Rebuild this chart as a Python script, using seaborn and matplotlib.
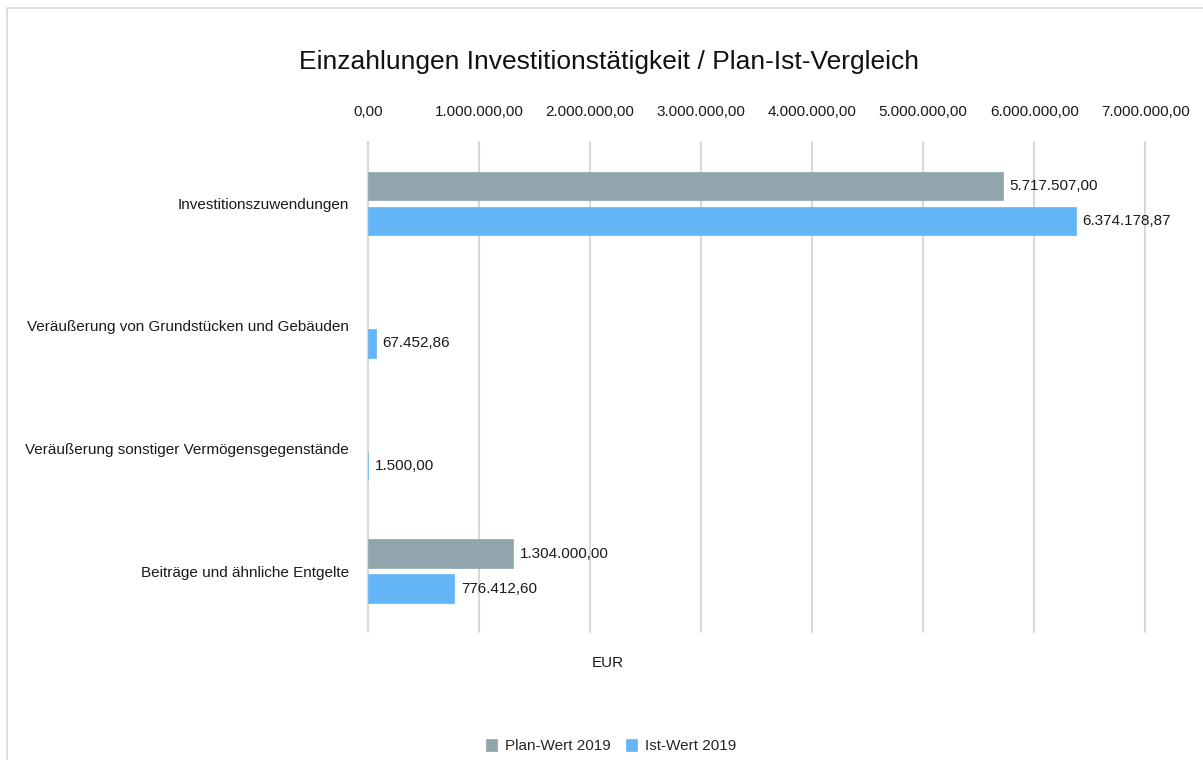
import pandas as pd
import numpy as np
import matplotlib
matplotlib.use('Agg')
import matplotlib.pyplot as plt
from matplotlib.patches import Rectangle
from matplotlib.ticker import FuncFormatter
import seaborn as sns

# Daten
kategorien = ['Investitionszuwendungen',
              'Veräußerung von Grundstücken und Gebäuden',
              'Veräußerung sonstiger Vermögensgegenstände',
              'Beiträge und ähnliche Entgelte']
plan_wert = [5717507.00, np.nan, np.nan, 1304000.00]
ist_wert = [6374178.87, 67452.86, 1500.00, 776412.60]
serien = ['Plan-Wert 2019', 'Ist-Wert 2019']
x_ticks = [0, 1000000, 2000000, 3000000, 4000000, 5000000, 6000000, 7000000]

df = pd.DataFrame({'Kategorie': kategorien * 2,
                   'Serie': [serien[0]] * 4 + [serien[1]] * 4,
                   'Wert': plan_wert + ist_wert})


def de_format(v, pos=None):
    s = f'{v:,.2f}'
    return s.replace(',', 'X').replace('.', ',').replace('X', '.')


sns.set_style('white')
plt.rcParams['font.family'] = ['Liberation Sans', 'DejaVu Sans']

fig = plt.figure(figsize=(12.03, 7.6), dpi=100)
ax = fig.add_axes([0.306, 0.168, 0.646, 0.645])

sns.barplot(data=df, y='Kategorie', x='Wert', hue='Serie', order=kategorien,
            hue_order=serien, palette=['#91A5AD', '#63B5F5'], orient='h',
            width=0.57, gap=0.19, saturation=1, ax=ax, legend=True)

# Balken ohne weisse Kanten, duenne Balken trotzdem sichtbar
for p in ax.patches:
    p.set_edgecolor(p.get_facecolor())
    p.set_linewidth(0.5)

for cont in ax.containers:
    labels = ['' if np.isnan(v) else de_format(v) for v in cont.datavalues]
    ax.bar_label(cont, labels=labels, padding=5, fontsize=11, color='#1a1a1a')

ax.set_xlim(0, 7000000)
ax.set_xticks(x_ticks)
ax.xaxis.set_major_formatter(FuncFormatter(de_format))
ax.xaxis.tick_top()
ax.tick_params(axis='x', length=0, pad=17, labelsize=11, labelcolor='#1a1a1a')
ax.tick_params(axis='y', length=0, pad=14, labelsize=11, labelcolor='#1a1a1a')
ax.grid(axis='x', color='#D9D9D9', linewidth=1.5)
for gl in ax.get_xgridlines():
    gl.set_clip_on(False)
ax.set_axisbelow(True)
for sp in ax.spines.values():
    sp.set_visible(False)
ax.set_xlabel('')
ax.set_ylabel('')

fig.text(0.505, 0.127, 'EUR', ha='center', va='center', fontsize=11, color='#1a1a1a')
fig.text(0.506, 0.918, 'Einzahlungen Investitionstätigkeit / Plan-Ist-Vergleich',
         ha='center', va='center', fontsize=19, color='#111111')

handles, lbls = ax.get_legend_handles_labels()
ax.get_legend().remove()
fig.legend(handles, lbls, loc='center', bbox_to_anchor=(0.508, 0.018), ncol=2,
           frameon=False, fontsize=11, handlelength=0.75, handleheight=0.75,
           handletextpad=0.5, columnspacing=1.0)

fig.patches.append(Rectangle((7 / 1203, -0.05), 1.1, 1 - 8 / 760 + 0.05,
                             transform=fig.transFigure, fill=False,
                             edgecolor='#D9D9D9', linewidth=1.2))

fig.savefig('out.png', dpi=100)
